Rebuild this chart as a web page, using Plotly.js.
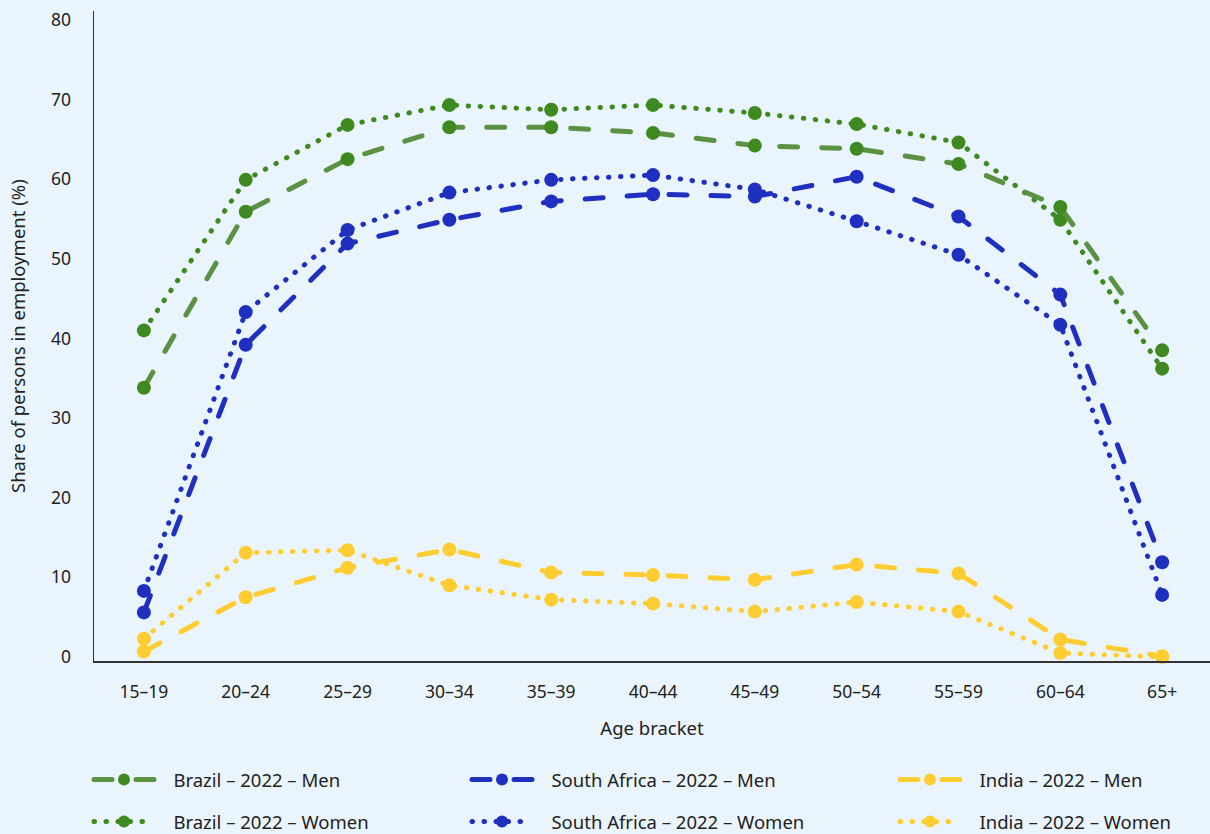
<!DOCTYPE html>
<html>
<head>
<meta charset="utf-8">
<script src="https://cdn.plot.ly/plotly-3.0.1.min.js"></script>
<style>
  html, body { margin: 0; padding: 0; background: #EAF4FC; }
  #chart { width: 1210px; height: 834px; }
  path.js-line { stroke-linecap: round; }
</style>
</head>
<body>
<div id="chart"></div>
<script>
const ages = ['15–19','20–24','25–29','30–34','35–39','40–44','45–49','50–54','55–59','60–64','65+'];
const brazilMen   = [33.8, 55.9, 62.5, 66.5, 66.5, 65.8, 64.2, 63.8, 61.9, 56.5, 38.5];
const brazilWomen = [41.0, 59.9, 66.8, 69.3, 68.7, 69.3, 68.3, 66.9, 64.6, 54.9, 36.2];
const saMen       = [5.6, 39.2, 51.9, 54.9, 57.2, 58.1, 57.8, 60.3, 55.3, 45.5, 11.9];
const saWomen     = [8.3, 43.3, 53.6, 58.3, 59.9, 60.5, 58.7, 54.7, 50.5, 41.7, 7.8];
const indiaMen    = [0.7, 7.5, 11.2, 13.5, 10.6, 10.3, 9.7, 11.6, 10.5, 2.2, 0.1];
const indiaWomen  = [2.3, 13.1, 13.4, 9.0, 7.2, 6.7, 5.7, 6.9, 5.7, 0.5, 0.0];
const names = ['Brazil – 2022 – Men','South Africa – 2022 – Men','India – 2022 – Men',
               'Brazil – 2022 – Women','South Africa – 2022 – Women','India – 2022 – Women'];
const yTitle = 'Share of persons in employment (%)';
const xTitle = 'Age bracket';

const GREEN = '#3E8A20', GREEN_DASH = '#5A9142', BLUE = '#1F2FBF', YELLOW = '#FFCD32';
const DASH = '18px,24px', DOT = '0.5px,11.5px';
const PAD = '\u00A0\u00A0\u00A0';

function tr(y, name, lineColor, markerColor, dash, legend) {
  return {
    type: 'scatter', mode: 'lines+markers', x: ages, y: y, name: PAD + name,
    line: {color: lineColor, width: 5, dash: dash},
    marker: {color: markerColor, size: 14},
    cliponaxis: false, legend: legend, hoverinfo: 'skip'
  };
}

const data = [
  tr(indiaWomen, names[5], YELLOW, YELLOW, DOT, 'legend6'),
  tr(indiaMen, names[2], YELLOW, YELLOW, DASH, 'legend3'),
  tr(saWomen, names[4], BLUE, BLUE, DOT, 'legend5'),
  tr(saMen, names[1], BLUE, BLUE, DASH, 'legend2'),
  tr(brazilWomen, names[3], GREEN, GREEN, DOT, 'legend4'),
  tr(brazilMen, names[0], GREEN_DASH, GREEN, DASH, 'legend')
];

function leg(px, py) {
  return {
    xref: 'container', yref: 'container', x: px / 1210, y: 1 - py / 834,
    xanchor: 'left', yanchor: 'middle', bgcolor: 'rgba(0,0,0,0)',
    font: {family: 'Noto Sans', size: 18.5, color: '#222'}, itemwidth: 60,
    itemsizing: 'constant', itemclick: false, itemdoubleclick: false
  };
}

const layout = {
  width: 1210, height: 834,
  paper_bgcolor: '#EAF4FC', plot_bgcolor: '#EAF4FC',
  margin: {l: 94, r: 0, t: 11, b: 172.5, autoexpand: false},
  font: {family: 'Noto Sans', color: '#222'},
  showlegend: true,
  xaxis: {
    type: 'category', range: [-0.49, 10.47], showgrid: false, zeroline: false,
    showline: true, linecolor: '#333', linewidth: 1.5,
    ticks: 'outside', ticklen: 14, tickcolor: 'rgba(0,0,0,0)',
    tickfont: {size: 17.5, color: '#222'}, tickangle: 0,
    title: {text: xTitle, font: {size: 18.5, color: '#222'}, standoff: 20},
    automargin: false
  },
  yaxis: {
    range: [-0.5, 81.1], dtick: 10, tick0: 0, showgrid: false, zeroline: false,
    showline: true, linecolor: '#333', linewidth: 1.5,
    ticks: 'outside', ticklen: 18, tickcolor: 'rgba(0,0,0,0)',
    tickfont: {size: 17.5, color: '#222'},
    automargin: false
  },
  annotations: [{
    text: yTitle, xref: 'paper', yref: 'paper', x: -0.069, y: 0.5,
    xanchor: 'center', yanchor: 'middle', textangle: -90, showarrow: false,
    font: {family: 'Noto Sans', size: 18.5, color: '#222'}
  }],
  legend: leg(89, 780), legend2: leg(467, 780), legend3: leg(895, 780),
  legend4: leg(89, 822), legend5: leg(467, 822), legend6: leg(895, 822)
};

Plotly.newPlot('chart', data, layout, {displayModeBar: false, staticPlot: true});
</script>
</body>
</html>
